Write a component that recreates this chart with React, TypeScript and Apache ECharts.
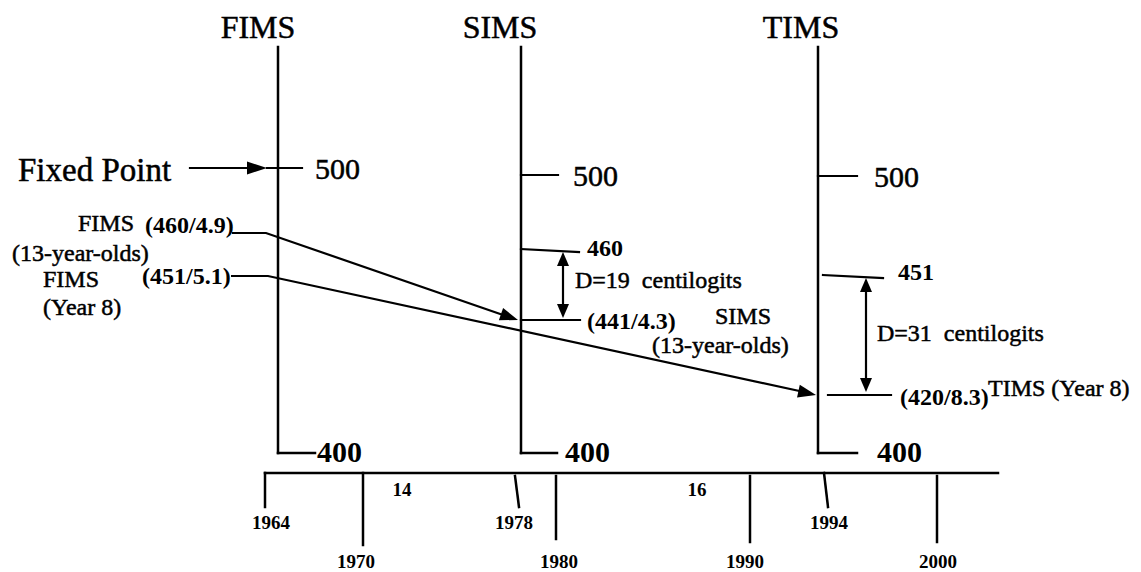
import React, { useEffect, useRef } from "react";
import * as echarts from "echarts";

// ---- content (data) ----
const surveyNames = ["FIMS", "SIMS", "TIMS"];
const scaleTop = 500;
const scaleBottom = 400;
const fixedPointLabel = "Fixed Point";
const fimsScores = [460, 451];
const fimsLogits = [4.9, 5.1];
const fimsGroups = ["(13-year-olds)", "(Year 8)"];
const laterScores = [441, 420];
const laterLogits = [4.3, 8.3];
const laterGroups = ["SIMS", "(13-year-olds)", "TIMS (Year 8)"];
const differences = [19, 31];
const timelineYears = [1964, 1970, 1978, 1980, 1990, 1994, 2000];
const intervalLabels = ["14", "16"];

// ---- layout (positions in px) ----
const FONT = "'Liberation Serif', 'Times New Roman', serif";
const axisX = [278, 521, 818];
const titleX = [258, 500, 801];
const axisTop = 47;
const axisBottom = 453;
const footEnd = [315, 557, 857];
const label400X = [317, 565, 877];
const tick500 = [
  { x1: 267, x2: 302, y: 168, lx: 315 },
  { x1: 521, x2: 558, y: 175, lx: 573 },
  { x1: 818, x2: 857, y: 176, lx: 874 },
];
const yearTicks = [
  { x1: 265, y1: 473, x2: 265, y2: 507, lx: 271, ly: 522 },
  { x1: 363, y1: 473, x2: 363, y2: 545, lx: 356, ly: 561 },
  { x1: 515, y1: 476, x2: 519, y2: 507, lx: 514, ly: 522 },
  { x1: 556, y1: 476, x2: 556, y2: 539, lx: 559, ly: 561 },
  { x1: 750, y1: 476, x2: 750, y2: 542, lx: 745, ly: 561 },
  { x1: 824, y1: 473, x2: 828, y2: 507, lx: 829, ly: 522 },
  { x1: 937, y1: 476, x2: 937, y2: 542, lx: 938, ly: 561 },
];
const intervalPos = [
  [402, 489],
  [697, 489],
];

const LW = 2.2;

function txt(
  text: string,
  x: number,
  y: number,
  size: number,
  opts: { bold?: boolean; align?: string } = {}
) {
  return {
    type: "text",
    x,
    y,
    style: {
      text,
      font: `${opts.bold ? "bold " : ""}${size}px ${FONT}`,
      fill: "#000",
      stroke: opts.bold ? undefined : "#000",
      lineWidth: opts.bold ? 0 : 0.5,
      align: opts.align || "left",
      verticalAlign: "middle",
      textAlign: opts.align || "left",
      textVerticalAlign: "middle",
    },
  };
}

function seg(x1: number, y1: number, x2: number, y2: number, w = LW) {
  return {
    type: "line",
    shape: { x1, y1, x2, y2 },
    style: { stroke: "#000", lineWidth: w, lineCap: "square" },
  };
}

function head(
  fx: number,
  fy: number,
  tx: number,
  ty: number,
  len = 16,
  wid = 12
) {
  const dx = tx - fx;
  const dy = ty - fy;
  const d = Math.sqrt(dx * dx + dy * dy);
  const ux = dx / d;
  const uy = dy / d;
  const bx = tx - ux * len;
  const by = ty - uy * len;
  const px = -uy * (wid / 2);
  const py = ux * (wid / 2);
  return {
    type: "polygon",
    shape: {
      points: [
        [tx, ty],
        [bx + px, by + py],
        [bx - px, by - py],
      ],
    },
    style: { fill: "#000" },
  };
}

function buildElements() {
  const els: any[] = [];
  // survey scales
  surveyNames.forEach((name, i) => {
    els.push(txt(name, titleX[i], 27, 32, { align: "center" }));
    els.push(seg(axisX[i], axisTop, axisX[i], axisBottom, 2.5));
    els.push(seg(axisX[i], axisBottom, footEnd[i], axisBottom, 2.5));
    els.push(txt(String(scaleBottom), label400X[i], 451, 30, { bold: true }));
    const t = tick500[i];
    els.push(seg(t.x1, t.y, t.x2, t.y));
    els.push(txt(String(scaleTop), t.lx, t.y, 30));
  });

  // fixed point
  els.push(txt(fixedPointLabel, 18, 170, 33));
  els.push(seg(190, 168, 255, 168));
  els.push(head(190, 168, 267, 168, 20, 13));

  // FIMS labels
  els.push(txt(surveyNames[0], 78, 223, 24));
  els.push(txt(`(${fimsScores[0]}/${fimsLogits[0]})`, 145, 225, 24, { bold: true }));
  els.push(txt(fimsGroups[0], 12, 253, 24));
  els.push(txt(surveyNames[0], 43, 279, 24));
  els.push(txt(`(${fimsScores[1]}/${fimsLogits[1]})`, 142, 276, 24, { bold: true }));
  els.push(txt(fimsGroups[1], 43, 307, 24));

  // connectors
  els.push({
    type: "polyline",
    shape: { points: [[232, 233], [266, 233], [506, 316]] },
    style: { stroke: "#000", lineWidth: LW, fill: null },
  });
  els.push(head(266, 233, 518, 320, 18, 13));
  els.push({
    type: "polyline",
    shape: { points: [[231, 276], [268, 276], [804, 392]] },
    style: { stroke: "#000", lineWidth: LW, fill: null },
  });
  els.push(head(268, 276, 816, 395, 18, 13));

  // SIMS comparison
  els.push(seg(521, 249, 579, 252));
  els.push(txt(String(fimsScores[0]), 587, 248, 24, { bold: true }));
  els.push(seg(521, 320, 580, 320));
  els.push(txt(`(${laterScores[0]}/${laterLogits[0]})`, 587, 321, 24, { bold: true }));
  els.push(seg(563, 264, 563, 306));
  els.push(head(563, 300, 563, 252, 14, 12));
  els.push(head(563, 270, 563, 318, 14, 12));
  els.push(txt(`D=${differences[0]}\u00a0 centilogits`, 575, 280, 24));
  els.push(txt(laterGroups[0], 715, 316, 24));
  els.push(txt(laterGroups[1], 652, 345, 24));

  // TIMS comparison
  els.push(seg(823, 275, 883, 278));
  els.push(txt(String(fimsScores[1]), 898, 272, 24, { bold: true }));
  els.push(seg(828, 395, 891, 395));
  els.push(txt(`(${laterScores[1]}/${laterLogits[1]})`, 900, 397, 24, { bold: true }));
  els.push(txt(laterGroups[2], 988, 388, 24));
  els.push(seg(866, 290, 866, 380));
  els.push(head(866, 330, 866, 278, 14, 12));
  els.push(head(866, 330, 866, 392, 14, 12));
  els.push(txt(`D=${differences[1]}\u00a0 centilogits`, 877, 333, 24));

  // timeline
  els.push(seg(265, 473, 998, 473, 2.5));
  timelineYears.forEach((yr, i) => {
    const t = yearTicks[i];
    els.push(seg(t.x1, t.y1, t.x2, t.y2, 2.5));
    els.push(txt(String(yr), t.lx, t.ly, 19, { bold: true, align: "center" }));
  });
  intervalLabels.forEach((lab, i) => {
    els.push(txt(lab, intervalPos[i][0], intervalPos[i][1], 19, { bold: true, align: "center" }));
  });
  return els;
}

export default function App() {
  const ref = useRef<HTMLDivElement>(null);
  useEffect(() => {
    if (!ref.current) return;
    const chart = echarts.init(ref.current, null, { renderer: "svg" });
    chart.setOption({
      animation: false,
      backgroundColor: "#fff",
      graphic: { elements: buildElements() },
    });
    return () => chart.dispose();
  }, []);
  return (
    <div
      ref={ref}
      style={{ position: "fixed", left: 0, top: 0, width: 1141, height: 572, background: "#fff" }}
    />
  );
}
